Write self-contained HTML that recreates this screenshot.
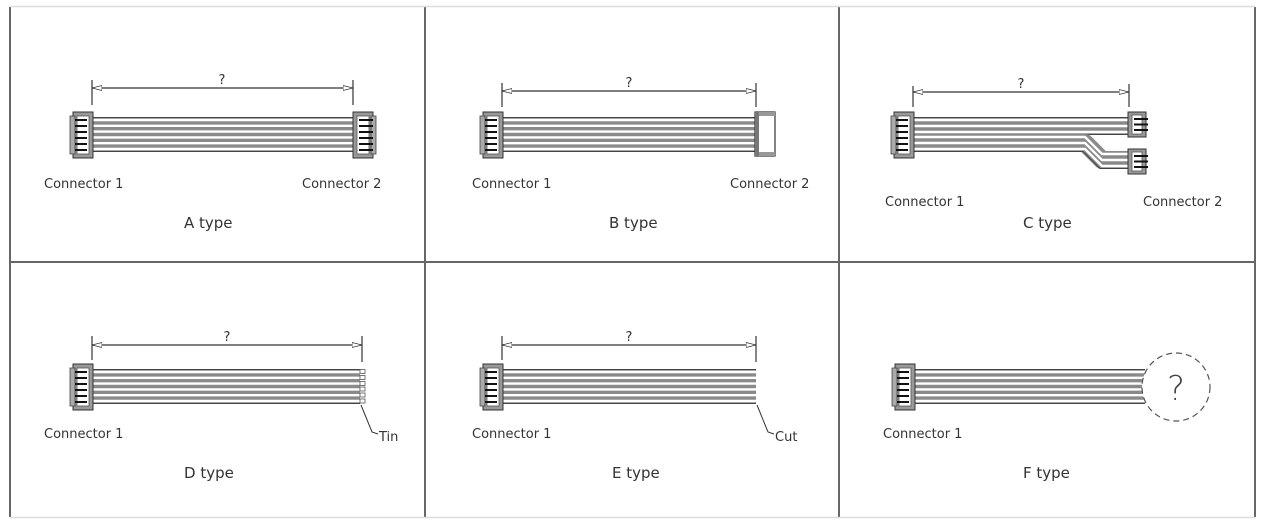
<!DOCTYPE html>
<html><head><meta charset="utf-8"><style>
html,body{margin:0;padding:0;background:#fff;width:1264px;height:529px;overflow:hidden}
text{font-family:"DejaVu Sans","Liberation Sans",sans-serif;fill:#333}
</style></head><body>
<svg width="1264" height="529" viewBox="0 0 1264 529" xmlns="http://www.w3.org/2000/svg">
<defs>
<g id="band">
<rect x="0" y="0" width="100" height="35" fill="#8a8a8a"/>
<line x1="0" x2="100" y1="3" y2="3" stroke="#fff" stroke-width="2.4"/>
<line x1="0" x2="100" y1="8.8" y2="8.8" stroke="#fff" stroke-width="2.4"/>
<line x1="0" x2="100" y1="14.6" y2="14.6" stroke="#fff" stroke-width="2.4"/>
<line x1="0" x2="100" y1="20.4" y2="20.4" stroke="#fff" stroke-width="2.4"/>
<line x1="0" x2="100" y1="26.2" y2="26.2" stroke="#fff" stroke-width="2.4"/>
<line x1="0" x2="100" y1="32" y2="32" stroke="#fff" stroke-width="2.4"/>
<line x1="0" x2="100" y1="0.5" y2="0.5" stroke="#444" stroke-width="1"/>
<line x1="0" x2="100" y1="34.5" y2="34.5" stroke="#444" stroke-width="1"/>
</g>
<g id="conn">
<rect x="0" y="0" width="20" height="46" fill="#999" stroke="#333" stroke-width="1"/>
<rect x="4" y="4" width="12" height="38" fill="#fff" stroke="#555" stroke-width="0.8"/>
<rect x="-3" y="4" width="5" height="38" fill="#aaa" stroke="#444" stroke-width="0.8"/>
<g stroke="#111" stroke-width="2">
<line x1="2" x2="14" y1="8" y2="8"/><line x1="2" x2="14" y1="14" y2="14"/>
<line x1="2" x2="14" y1="20" y2="20"/><line x1="2" x2="14" y1="26" y2="26"/>
<line x1="2" x2="14" y1="32" y2="32"/><line x1="2" x2="14" y1="38" y2="38"/>
</g>
</g>
<g id="conn2">
<rect x="0" y="0" width="20" height="46" fill="#999" stroke="#333" stroke-width="1"/>
<rect x="4" y="4" width="12" height="38" fill="#fff" stroke="#555" stroke-width="0.8"/>
<rect x="18" y="4" width="5" height="38" fill="#aaa" stroke="#444" stroke-width="0.8"/>
<g stroke="#111" stroke-width="2">
<line x1="6" x2="20" y1="8" y2="8"/><line x1="6" x2="20" y1="14" y2="14"/>
<line x1="6" x2="20" y1="20" y2="20"/><line x1="6" x2="20" y1="26" y2="26"/>
<line x1="6" x2="20" y1="32" y2="32"/><line x1="6" x2="20" y1="38" y2="38"/>
</g>
</g>
<g id="small">
<rect x="0" y="0" width="18" height="25" fill="#999" stroke="#333" stroke-width="1"/>
<rect x="4" y="3" width="10" height="19" fill="#fff" stroke="#555" stroke-width="0.8"/>
<g stroke="#111" stroke-width="2">
<line x1="6" x2="20" y1="7" y2="7"/><line x1="6" x2="20" y1="12.5" y2="12.5"/><line x1="6" x2="20" y1="18" y2="18"/>
</g>
</g>
<marker id="ar" viewBox="0 0 10 6" refX="10" refY="3" markerWidth="10" markerHeight="6" orient="auto-start-reverse" markerUnits="userSpaceOnUse">
<path d="M0,0.5 L10,3 L0,5.5 Z" fill="#fff" stroke="#333" stroke-width="0.8"/>
</marker>
</defs>

<g stroke="#666" stroke-width="2" fill="none">
<line x1="10" y1="7" x2="10" y2="517"/>
<line x1="425" y1="7" x2="425" y2="517"/>
<line x1="839" y1="7" x2="839" y2="517"/>
<line x1="1255" y1="7" x2="1255" y2="517"/>
<line x1="10" y1="262" x2="1255" y2="262"/>
</g>
<line x1="10" y1="6.5" x2="1255" y2="6.5" stroke="#ddd" stroke-width="1.5"/>
<line x1="10" y1="517.5" x2="1255" y2="517.5" stroke="#ddd" stroke-width="1.5"/>

<g stroke="#333" stroke-width="1.2" fill="none">
<line x1="92" y1="80" x2="92" y2="105"/><line x1="353" y1="80" x2="353" y2="105"/>
<line x1="92" y1="88" x2="353" y2="88" marker-start="url(#ar)" marker-end="url(#ar)"/>
<line x1="502" y1="83" x2="502" y2="107"/><line x1="756" y1="83" x2="756" y2="107"/>
<line x1="502" y1="91" x2="756" y2="91" marker-start="url(#ar)" marker-end="url(#ar)"/>
<line x1="913" y1="86" x2="913" y2="107"/><line x1="1129" y1="84" x2="1129" y2="107"/>
<line x1="913" y1="92" x2="1129" y2="92" marker-start="url(#ar)" marker-end="url(#ar)"/>
<line x1="92" y1="336" x2="92" y2="360"/><line x1="362" y1="336" x2="362" y2="362"/>
<line x1="92" y1="345" x2="362" y2="345" marker-start="url(#ar)" marker-end="url(#ar)"/>
<line x1="502" y1="336" x2="502" y2="360"/><line x1="756" y1="336" x2="756" y2="362"/>
<line x1="502" y1="345" x2="756" y2="345" marker-start="url(#ar)" marker-end="url(#ar)"/>
</g>

<use href="#band" transform="translate(92,117) scale(2.62,1)"/>
<use href="#conn" x="73" y="112"/>
<use href="#conn2" x="353" y="112"/>

<use href="#band" transform="translate(502,117) scale(2.54,1)"/>
<use href="#conn" x="483" y="112"/>
<rect x="755" y="112" width="20" height="44" fill="#fff" stroke="#333" stroke-width="1.2"/>
<rect x="755" y="112" width="4" height="44" fill="#777"/>
<rect x="759" y="112" width="16" height="4" fill="#999"/>
<rect x="759" y="152" width="16" height="4" fill="#999"/>

<g fill="none" stroke-linejoin="round">
<rect x="913" y="117" width="216" height="18" fill="#8a8a8a"/>
<path d="M913,120 H1129 M913,126 H1129 M913,132 H1129" stroke="#fff" stroke-width="2.4"/>
<path d="M913,117.5 H1129 M913,134.5 H1129" stroke="#444" stroke-width="1"/>
<path d="M913,143 H1085 L1102,160 H1129" stroke="#8a8a8a" stroke-width="18"/>
<path d="M913,137 H1085 L1102,154 H1129 M913,143 H1085 L1102,160 H1129 M913,149 H1085 L1102,166 H1129" stroke="#fff" stroke-width="2.4"/>
<path d="M913,151.5 H1083 L1100,168.5 H1129" stroke="#444" stroke-width="1"/>
</g>
<use href="#conn" x="894" y="112"/>
<use href="#small" x="1128" y="112"/>
<use href="#small" x="1128" y="149"/>

<use href="#band" transform="translate(92,369) scale(2.68,1)"/>
<g fill="#fff" stroke="#555" stroke-width="0.8">
<rect x="360" y="369.5" width="5" height="4"/><rect x="360" y="375.5" width="5" height="4"/>
<rect x="360" y="381.5" width="5" height="4"/><rect x="360" y="387" width="5" height="4"/>
<rect x="360" y="393" width="5" height="4"/><rect x="360" y="399" width="5" height="4"/>
</g>
<use href="#conn" x="73" y="364"/>
<path d="M361,405 L372,432 L378,434" fill="none" stroke="#333" stroke-width="1"/>

<use href="#band" transform="translate(502,369) scale(2.54,1)"/>
<use href="#conn" x="483" y="364"/>
<path d="M757,405 L768,432 L774,434" fill="none" stroke="#333" stroke-width="1"/>

<use href="#band" transform="translate(913,369) scale(2.32,1)"/>
<use href="#conn" x="895" y="364"/>
<circle cx="1176" cy="387" r="34" fill="#fff" stroke="#555" stroke-width="1.2" stroke-dasharray="6,4"/>
<text x="1176" y="400" font-size="34" text-anchor="middle" style="fill:#444;font-family:'DejaVu Sans',sans-serif;font-weight:200">?</text>

<g font-size="13">
<text x="222" y="84" text-anchor="middle">?</text>
<text x="629" y="87" text-anchor="middle">?</text>
<text x="1021" y="88" text-anchor="middle">?</text>
<text x="227" y="341" text-anchor="middle">?</text>
<text x="629" y="341" text-anchor="middle">?</text>
<text x="44" y="188">Connector 1</text>
<text x="302" y="188">Connector 2</text>
<text x="472" y="188">Connector 1</text>
<text x="730" y="188">Connector 2</text>
<text x="885" y="206">Connector 1</text>
<text x="1143" y="206">Connector 2</text>
<text x="44" y="438">Connector 1</text>
<text x="472" y="438">Connector 1</text>
<text x="883" y="438">Connector 1</text>
<text x="379" y="441">Tin</text>
<text x="775" y="441">Cut</text>
</g>
<g font-size="15">
<text x="184" y="228">A type</text>
<text x="609" y="228">B type</text>
<text x="1023" y="228">C type</text>
<text x="184" y="478">D type</text>
<text x="612" y="478">E type</text>
<text x="1023" y="478">F type</text>
</g>
</svg>
</body></html>
